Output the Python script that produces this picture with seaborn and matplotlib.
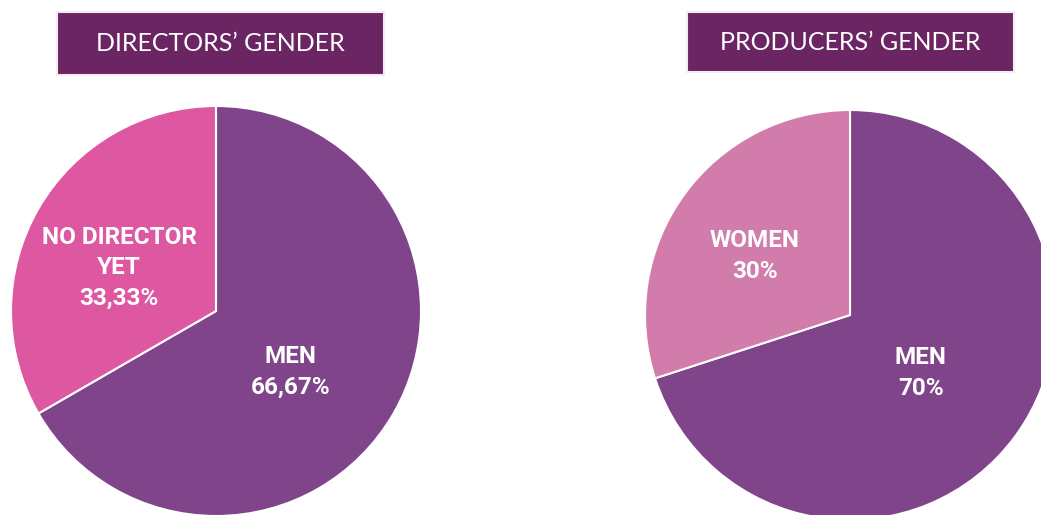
import matplotlib
matplotlib.use("Agg")
import matplotlib.pyplot as plt
from matplotlib.patches import Rectangle
import seaborn as sns

# Data
directors_labels = ["MEN", "NO DIRECTOR\nYET"]
directors_values = [66.67, 33.33]
directors_pct_text = ["66,67%", "33,33%"]
producers_labels = ["MEN", "WOMEN"]
producers_values = [70, 30]
producers_pct_text = ["70%", "30%"]
titles = ["DIRECTORS\u2019 GENDER", "PRODUCERS\u2019 GENDER"]

sns.set_theme(style="white")
plt.rcParams["font.family"] = ["Lato", "DejaVu Sans"]

W, H = 1041, 515
fig = plt.figure(figsize=(W / 100, H / 100), dpi=100)
ax = fig.add_axes([0, 0, 1, 1])

MEN = "#80448A"
dir_colors = [MEN, "#DD58A0"]
prod_colors = [MEN, "#D17CAA"]

def py(y):
    return H - y

ax.pie(directors_values, colors=dir_colors, startangle=90, counterclock=False,
       center=(216, py(311)), radius=205,
       wedgeprops=dict(edgecolor="white", linewidth=1.5))
ax.pie(producers_values, colors=prod_colors, startangle=90, counterclock=False,
       center=(850, py(315)), radius=205,
       wedgeprops=dict(edgecolor="white", linewidth=1.5))

ax.set_xlim(0, W)
ax.set_ylim(0, H)
ax.set_aspect("auto")
ax.axis("off")

# title boxes
boxes = [(57, 12, 327, 63), (687, 12, 327, 60)]
for (x, y, w, h), t in zip(boxes, titles):
    ax.add_patch(Rectangle((x, py(y + h)), w, h, facecolor="#6B2563",
                           edgecolor="#F5EAF4", linewidth=1.5, zorder=5))
    ax.text(x + w / 2, py(y + h / 2), t, ha="center", va="center",
            color="white", fontsize=18, zorder=6)

lab = dict(ha="center", va="center", color="white", fontsize=17.5,
           fontweight="bold", family=["Roboto", "DejaVu Sans"], linespacing=1.4)
ax.text(119, py(268), directors_labels[1] + "\n" + directors_pct_text[1], **lab)
ax.text(291, py(372), directors_labels[0] + "\n" + directors_pct_text[0], **lab)
ax.text(755, py(256), producers_labels[1] + "\n" + producers_pct_text[1], **lab)
ax.text(921, py(373), producers_labels[0] + "\n" + producers_pct_text[0], **lab)

fig.savefig("out.png", dpi=100, facecolor="white")
